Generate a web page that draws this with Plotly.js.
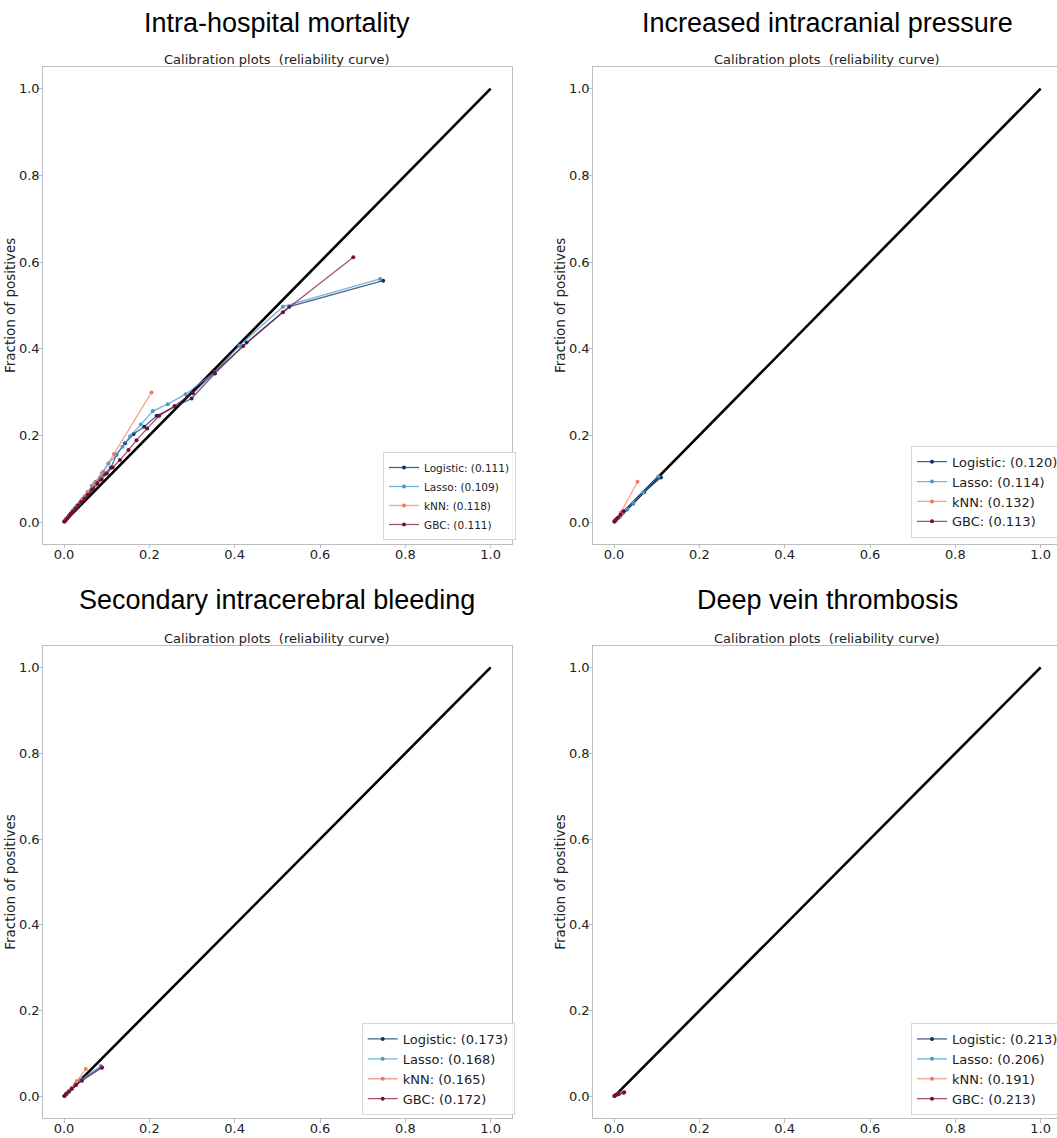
<!DOCTYPE html>
<html>
<head>
<meta charset="utf-8">
<script src="https://cdn.plot.ly/plotly-3.0.1.min.js"></script>
<style>
html,body{margin:0;padding:0;overflow:hidden;background:#fff;}
#chart{width:1064px;height:1138px;}
</style>
</head>
<body>
<div id="chart"></div>
<script>
// ---------- DATA ----------
const panelTitles = ["Intra-hospital mortality", "Increased intracranial pressure", "Secondary intracerebral bleeding", "Deep vein thrombosis"];
const subTitle = "Calibration plots \u00a0(reliability curve)";
const modelNames = ["Logistic", "Lasso", "kNN", "GBC"];
const diagX = [0, 1];
const diagY = [0, 1];
const tickVals = [0, 0.2, 0.4, 0.6, 0.8, 1.0];

// Brier scores per panel (legend labels)
const scoresMortality = ["0.111", "0.109", "0.118", "0.111"];
const scoresICP = ["0.120", "0.114", "0.132", "0.113"];
const scoresSICH = ["0.173", "0.168", "0.165", "0.172"];
const scoresDVT = ["0.213", "0.206", "0.191", "0.213"];

// Intra-hospital mortality
const mortLogX = [0.001,0.004,0.008,0.012,0.016,0.021,0.026,0.032,0.038,0.045,0.052,0.060,0.068,0.077,0.085,0.094,0.110,0.123,0.143,0.163,0.188,0.217,0.299,0.354,0.428,0.528,0.748];
const mortLogY = [0.001,0.005,0.010,0.015,0.020,0.026,0.032,0.038,0.045,0.053,0.061,0.070,0.079,0.089,0.099,0.111,0.126,0.155,0.182,0.203,0.220,0.245,0.285,0.343,0.414,0.497,0.557];
const mortLassoX = [0.001,0.004,0.008,0.012,0.017,0.022,0.028,0.034,0.041,0.048,0.056,0.065,0.074,0.084,0.092,0.104,0.122,0.137,0.155,0.180,0.208,0.243,0.285,0.354,0.411,0.513,0.741];
const mortLassoY = [0.001,0.005,0.010,0.015,0.021,0.027,0.034,0.041,0.050,0.059,0.070,0.083,0.093,0.102,0.116,0.135,0.155,0.174,0.198,0.225,0.256,0.272,0.295,0.347,0.407,0.497,0.561];
const mortKnnX = [0.000,0.005,0.012,0.020,0.030,0.042,0.055,0.070,0.088,0.117,0.205];
const mortKnnY = [0.002,0.008,0.016,0.025,0.038,0.052,0.069,0.088,0.112,0.157,0.299];
const mortGbcX = [0.001,0.004,0.008,0.012,0.016,0.021,0.027,0.033,0.040,0.048,0.056,0.066,0.078,0.088,0.100,0.114,0.131,0.151,0.170,0.195,0.223,0.259,0.302,0.352,0.420,0.513,0.678];
const mortGbcY = [0.001,0.004,0.009,0.014,0.019,0.025,0.031,0.038,0.046,0.054,0.063,0.075,0.089,0.098,0.112,0.126,0.143,0.166,0.189,0.216,0.245,0.268,0.297,0.345,0.406,0.484,0.611];

// Increased intracranial pressure
const icpLogX = [0.001,0.004,0.008,0.013,0.020,0.030,0.045,0.070,0.110];
const icpLogY = [0.001,0.004,0.008,0.013,0.020,0.029,0.043,0.069,0.103];
const icpLassoX = [0.001,0.004,0.008,0.013,0.020,0.030,0.045,0.068,0.104];
const icpLassoY = [0.001,0.004,0.008,0.013,0.020,0.030,0.044,0.068,0.105];
const icpKnnX = [0.001,0.006,0.016,0.055];
const icpKnnY = [0.002,0.007,0.022,0.093];
const icpGbcX = [0.001,0.004,0.009,0.015,0.022];
const icpGbcY = [0.001,0.005,0.010,0.017,0.025];

// Secondary intracerebral bleeding
const sichLogX = [0.001,0.005,0.011,0.018,0.027,0.040,0.088];
const sichLogY = [0.001,0.006,0.012,0.019,0.028,0.038,0.069];
const sichLassoX = [0.001,0.005,0.011,0.018,0.027,0.040,0.086];
const sichLassoY = [0.001,0.006,0.012,0.019,0.029,0.039,0.071];
const sichKnnX = [0.001,0.007,0.018,0.030,0.051];
const sichKnnY = [0.002,0.009,0.020,0.036,0.064];
const sichGbcX = [0.001,0.005,0.011,0.018,0.028,0.042,0.089];
const sichGbcY = [0.001,0.006,0.011,0.018,0.027,0.037,0.067];

// Deep vein thrombosis
const dvtLogX = [0.001,0.005,0.010,0.022];
const dvtLogY = [0.001,0.004,0.006,0.009];
const dvtLassoX = [0.001,0.005,0.010,0.020];
const dvtLassoY = [0.001,0.004,0.006,0.009];
const dvtKnnX = [0.001,0.006,0.013];
const dvtKnnY = [0.001,0.004,0.007];
const dvtGbcX = [0.001,0.005,0.011,0.024];
const dvtGbcY = [0.001,0.004,0.006,0.010];

// ---------- STYLE ----------
const markerColors = ["#0d2f66", "#4a98cc", "#f07a5c", "#7a0c2e"];
const lineColors = ["rgba(13,47,102,0.75)", "rgba(74,152,204,0.75)", "rgba(240,122,92,0.7)", "rgba(122,12,46,0.7)"];

const panels = [
  {xs:[mortLogX,mortLassoX,mortKnnX,mortGbcX], ys:[mortLogY,mortLassoY,mortKnnY,mortGbcY], scores:scoresMortality},
  {xs:[icpLogX,icpLassoX,icpKnnX,icpGbcX], ys:[icpLogY,icpLassoY,icpKnnY,icpGbcY], scores:scoresICP},
  {xs:[sichLogX,sichLassoX,sichKnnX,sichGbcX], ys:[sichLogY,sichLassoY,sichKnnY,sichGbcY], scores:scoresSICH},
  {xs:[dvtLogX,dvtLassoX,dvtKnnX,dvtGbcX], ys:[dvtLogY,dvtLassoY,dvtKnnY,dvtGbcY], scores:scoresDVT}
];

const W = 1064, H = 1138;
const xDomains = [[42.7/W, 512/W], [592.7/W, 1062/W]];
const yDomains = [[1-543.7/H, 1-67/H], [1-1118/H, 1-646/H]];

const traces = [];
const layout = {
  width: W, height: H,
  margin: {l:0, r:0, t:0, b:0},
  paper_bgcolor: "#fff", plot_bgcolor: "#fff",
  font: {family: "DejaVu Sans", color: "#222", size: 12},
  annotations: [],
  showlegend: true
};

const legendPos = [
  {x: 383/W, y: 1-540/H, size: 10.5},
  {x: 911/W, y: 1-537.7/H, size: 13},
  {x: 361.7/W, y: 1-1115/H, size: 13},
  {x: 911/W, y: 1-1115/H, size: 13}
];

panels.forEach((p, i) => {
  const col = i % 2, row = Math.floor(i / 2);
  const ax = i === 0 ? "" : String(i + 1);
  const xa = "x" + ax, ya = "y" + ax;
  const legName = i === 0 ? "legend" : "legend" + (i + 1);

  traces.push({
    x: diagX, y: diagY, xaxis: xa, yaxis: ya, mode: "lines",
    line: {color: "#000", width: 2.6}, showlegend: false, hoverinfo: "skip"
  });
  for (let m = 0; m < 4; m++) {
    traces.push({
      x: p.xs[m], y: p.ys[m], xaxis: xa, yaxis: ya, mode: "lines+markers",
      name: modelNames[m] + ": (" + p.scores[m] + ")",
      line: {color: lineColors[m], width: 1.3},
      marker: {color: markerColors[m], size: 4},
      legend: legName
    });
  }

  const axCommon = {
    range: [-0.05, 1.05], tickvals: tickVals, tickformat: ".1f",
    showgrid: false, zeroline: false, showline: true, mirror: true,
    linecolor: "#bdbdbd", linewidth: 1,
    ticks: "outside", ticklen: 3.5, tickcolor: "#bdbdbd",
    tickfont: {family: "DejaVu Sans", size: 13, color: "#222"}
  };
  layout["xaxis" + ax] = Object.assign({}, axCommon, {domain: xDomains[col], anchor: ya, ticklabelstandoff: -5});
  layout["yaxis" + ax] = Object.assign({}, axCommon, {
    domain: yDomains[row], anchor: xa, ticklabelstandoff: -4,
    title: {text: "Fraction of positives", font: {family: "DejaVu Sans", size: 13.5, color: "#222"}, standoff: 0}
  });

  const lp = legendPos[i];
  layout[legName] = {
    x: lp.x, y: lp.y, xanchor: "left", yanchor: "bottom",
    xref: "paper", yref: "paper",
    bgcolor: "rgba(255,255,255,0.85)", bordercolor: "#d6d6d6", borderwidth: 1,
    font: {family: "DejaVu Sans", size: lp.size, color: "#222"},
    traceorder: "normal", itemwidth: 30, tracegroupgap: 0
  };

  const cx = (xDomains[col][0] + xDomains[col][1]) / 2;
  layout.annotations.push({
    text: panelTitles[i], xref: "paper", yref: "paper",
    x: cx, y: row === 0 ? 1 - 23/H : 1 - 600/H, xanchor: "center", yanchor: "middle",
    showarrow: false, font: {family: "Liberation Sans", size: 27, color: "#000"}
  });
  layout.annotations.push({
    text: subTitle, xref: "paper", yref: "paper",
    x: cx, y: row === 0 ? 1 - 60/H : 1 - 638/H, xanchor: "center", yanchor: "middle",
    showarrow: false, font: {family: "DejaVu Sans", size: 13, color: "#222"}
  });
});

Plotly.newPlot("chart", traces, layout, {staticPlot: true, displayModeBar: false});
</script>
</body>
</html>
